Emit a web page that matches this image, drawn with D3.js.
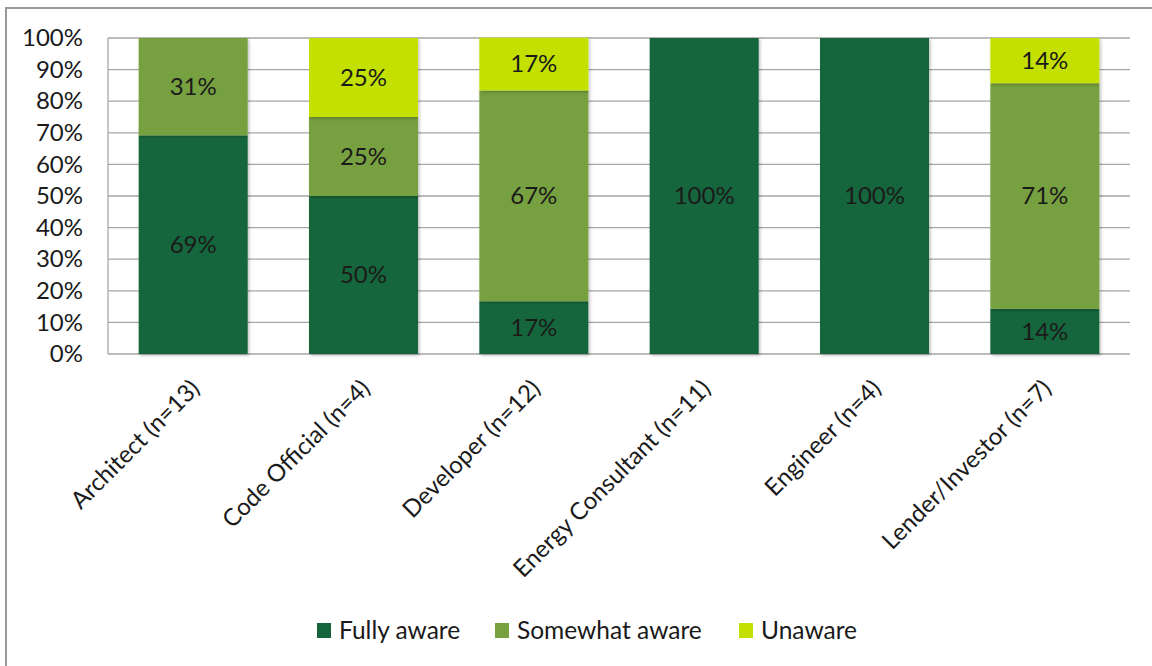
<!DOCTYPE html>
<html><head><meta charset="utf-8">
<script src="https://cdn.jsdelivr.net/npm/d3@7"></script>
<style>
html,body{margin:0;padding:0;background:#fff;}
svg{display:block;font-family:Lato,"Open Sans",sans-serif;}
</style></head>
<body>
<svg id="chart" width="1152" height="666"></svg>
<script>
const categories = ["Architect (n=13)","Code Official (n=4)","Developer (n=12)","Energy Consultant (n=11)","Engineer (n=4)","Lender/Investor (n=7)"];
const seriesNames = ["Fully aware","Somewhat aware","Unaware"];
const fullyAware    = [69.2, 50, 16.7, 100, 100, 14.3];
const somewhatAware = [30.8, 25, 66.7, 0, 0, 71.4];
const unaware       = [0, 25, 16.7, 0, 0, 14.3];
const yTicks = [0,10,20,30,40,50,60,70,80,90,100];
const colors = ["#13663c","#77a03f","#c3e002"];

const svg = d3.select("#chart");
const FS = 24;

// outer frame
svg.append("rect").attr("x",6).attr("y",8).attr("width",1200).attr("height",800)
  .attr("fill","none").attr("stroke","#999").attr("stroke-width",2);

const defs = svg.append("defs");
const f = defs.append("filter").attr("id","sh").attr("x","-10%").attr("y","-10%").attr("width","130%").attr("height","130%");
f.append("feDropShadow").attr("dx",1.5).attr("dy",1.5).attr("stdDeviation",1.5).attr("flood-color","#000").attr("flood-opacity",0.25);

const x = d3.scaleBand().domain(categories).range([108,1130]).paddingInner(0.36).paddingOuter(0.18);
const y = d3.scaleLinear().domain([0,100]).range([354,38]);

// gridlines
svg.append("g").selectAll("line").data(yTicks).join("line")
  .attr("x1",108).attr("x2",1130).attr("y1",d=>y(d)).attr("y2",d=>y(d))
  .attr("stroke","#a6a6a6").attr("stroke-width",1.3);
svg.append("line").attr("x1",108).attr("x2",108).attr("y1",38).attr("y2",354).attr("stroke","#a6a6a6").attr("stroke-width",1.3);

// y axis labels
const yAxis = d3.axisLeft(y).tickValues(yTicks).tickFormat(d=>d+"%").tickSize(0).tickPadding(25);
const ya = svg.append("g").attr("transform","translate(108,0)").call(yAxis);
ya.select(".domain").remove();
ya.selectAll("text").attr("font-size",FS).attr("fill","#1a1a1a").attr("font-family","Lato,'Open Sans',sans-serif");

// stack
const data = categories.map((c,i)=>({cat:c, "Fully aware":fullyAware[i], "Somewhat aware":somewhatAware[i], "Unaware":unaware[i]}));
const stack = d3.stack().keys(seriesNames)(data);

const g = svg.append("g");
stack.forEach((s,si)=>{
  g.append("g").selectAll("rect").data(s.filter(d=>d[1]-d[0]>0)).join("rect")
    .attr("x",d=>x(d.data.cat)).attr("width",x.bandwidth())
    .attr("y",d=>y(d[1])).attr("height",d=>y(d[0])-y(d[1]))
    .attr("fill",colors[si]).attr("filter","url(#sh)");
});
stack.forEach((s,si)=>{
  g.append("g").selectAll("text").data(s.filter(d=>d[1]-d[0]>0)).join("text")
    .attr("x",d=>x(d.data.cat)+x.bandwidth()/2)
    .attr("y",d=>(y(d[0])+y(d[1]))/2)
    .attr("dy","0.35em").attr("text-anchor","middle")
    .attr("font-size",FS).attr("fill","#1a1a1a")
    .text(d=>Math.round(d[1]-d[0])+"%");
});

// x labels
const xa = svg.append("g").attr("transform","translate(0,354)");
xa.selectAll("text").data(categories).join("text")
  .attr("transform",d=>`translate(${x(d)+x.bandwidth()/2+2},30) rotate(-45)`)
  .attr("text-anchor","end").attr("dy","0.35em")
  .attr("font-size",FS).attr("fill","#1a1a1a").text(d=>d);

// legend
const legX = [317, 495, 739];
const leg = svg.append("g");
seriesNames.forEach((n,i)=>{
  leg.append("rect").attr("x",legX[i]).attr("y",623).attr("width",14).attr("height",15).attr("fill",colors[i]);
  leg.append("text").attr("x",legX[i]+22).attr("y",630.5).attr("dy","0.35em")
    .attr("font-size",24.5).attr("fill","#1a1a1a").text(n);
});
</script>
</body></html>
